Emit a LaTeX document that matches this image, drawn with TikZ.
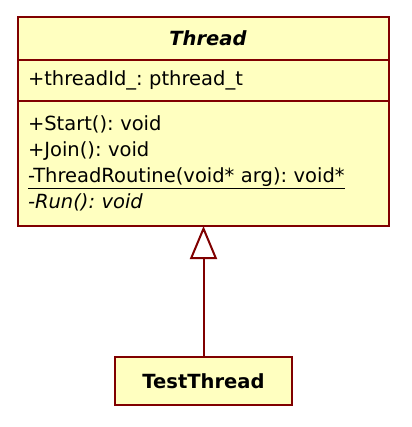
\documentclass[tikz,border=0pt]{standalone}
\usepackage{fontspec}
\setmainfont{DejaVu Sans}
\usetikzlibrary{positioning,arrows.meta}
\definecolor{umlred}{HTML}{800000}
\definecolor{umlfill}{HTML}{FFFFC0}
\frenchspacing
\begin{document}
\begin{tikzpicture}[x=1pt,y=-1pt,
	classbox/.style={draw=umlred,fill=umlfill,line width=2pt,minimum width=371pt,inner sep=0pt,outer sep=0pt},
	members/.style={classbox,inner xsep=10pt,text width=351pt,align=left,font=\fontsize{19.5}{26}\selectfont},
	inherit/.style={draw=umlred,line width=2pt,-{Triangle[open,length=33pt,width=27pt,fill=white]}}]
	\useasboundingbox (0,0) rectangle (411,427);
	\node[classbox,minimum height=43pt,font=\fontsize{19.5}{22}\selectfont\bfseries\itshape] (threadName) at (203.5,38.5) {\hspace*{9pt}Thread};
	\node[members,minimum height=41pt,below=0pt of threadName] (threadAttrs) {+threadId\_: pthread\_t};
	\node[members,minimum height=125pt,below=0pt of threadAttrs] (threadOps) {+Start(): void\\
		+Join(): void\\
		\underline{-ThreadRoutine(void* arg): void*}\\
		\textit{-Run(): void}};
	\node[classbox,minimum width=177pt,minimum height=48pt,font=\fontsize{19.5}{22}\selectfont\bfseries] (testThread) at (203.5,381) {TestThread};
	\draw[inherit] (testThread) -- (threadOps);
\end{tikzpicture}
\end{document}
